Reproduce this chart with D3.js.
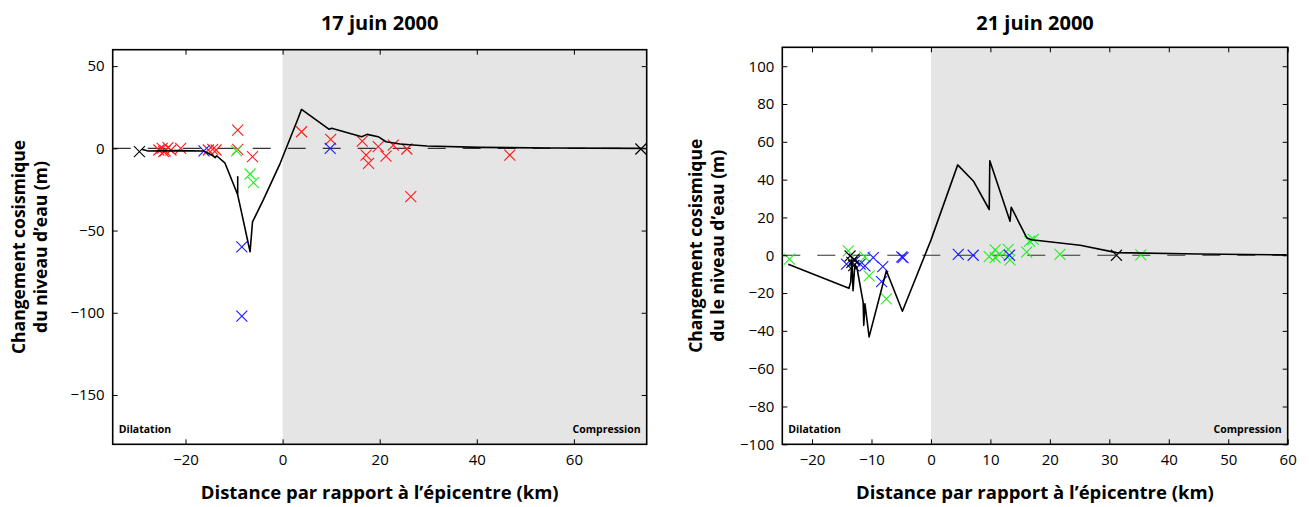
<!DOCTYPE html>
<html><head><meta charset="utf-8">
<script src="https://cdn.jsdelivr.net/npm/d3@7"></script>
<style>body{margin:0;background:#fff}svg{display:block}</style>
</head><body>
<svg id="c" width="1309" height="507"></svg>
<script>
// ---------- Panel 1 : 17 juin 2000 ----------
const p1Title = "17 juin 2000";
const p1XTicks = [-20, 0, 20, 40, 60];
const p1YTicks = [50, 0, -50, -100, -150];
const p1LineX = [-29, -27.7, -22, -16.3, -14.6, -13.9, -13.6, -11.9, -9.5, -9.25, -9.25, -9.25, -9, -6.7, -6.2, -4, -0.5, 3.2, 3.9, 9.6, 10.1, 16.3, 17.4, 19.7, 21.3, 24.2, 29.7, 40.7, 55, 73.8];
const p1LineY = [-0.6, -1.6, -1.4, -1.6, -4, -5.7, -4.5, -8.8, -26.4, -28.4, -17.3, -28.4, -31.6, -62.9, -44.7, -31.5, -9.1, 18.3, 23.7, 11.6, 12.2, 7.1, 8.5, 7.1, 4.0, 2.6, 1.4, 0.6, 0.2, 0];
const p1RedX = [-25.5, -24.8, -24.2, -23.6, -23, -24.5, -21, -15.3, -14.4, -13.7, -9.25, -9.25, -6.2, 3.9, 9.9, 16.4, 17.2, 17.7, 19.7, 21.3, 22.8, 25.6, 26.4, 46.8];
const p1RedY = [-1, 0, -1.5, 0.5, -1, -2, 0, -1, -0.6, -1, 11.1, -0.6, -5.1, 10.1, 5.5, 4.4, -4.1, -9.1, 1, -4.7, 2, -0.4, -29.4, -4.1];
const p1GreenX = [-9.5, -6.7, -6.0];
const p1GreenY = [-1.6, -15.6, -20.9];
const p1BlueX = [-16.2, -8.4, -8.4, 9.8];
const p1BlueY = [-1.6, -59.9, -102, 0];
const p1BlackX = [-29.5, 73.8];
const p1BlackY = [-2, -0.4];

// ---------- Panel 2 : 21 juin 2000 ----------
const p2Title = "21 juin 2000";
const p2XTicks = [-20, -10, 0, 10, 20, 30, 40, 50, 60];
const p2YTicks = [100, 80, 60, 40, 20, 0, -20, -40, -60, -80, -100];
const p2LineX = [-24, -13.8, -13.5, -13.3, -13.1, -12.8, -12.4, -11.4, -11.3, -11.1, -10.4, -7.5, -4.8, 0, 4.5, 7.2, 9.8, 9.9, 13.3, 13.5, 16.1, 16.9, 25.1, 31.2, 45, 59.8];
const p2LineY = [-4.7, -17.5, -14.3, -2.5, -18.7, -4.7, -7.4, -24.9, -37.1, -25.7, -43.2, -8.2, -29.6, 8, 47.8, 39, 24.2, 50, 18, 25.4, 9.3, 8.2, 5.3, 1.4, 0.7, 0.2];
const p2GreenX = [-23.8, -13.9, -11.1, -10.4, -7.5, 9.8, 10.8, 10.8, 11.5, 13, 13.3, 16.1, 16.6, 17.2, 21.7, 35.3];
const p2GreenY = [-2.1, 2.3, -0.9, -10.9, -23.1, -0.7, 2.8, -1.2, 0.5, 3.1, -2.5, 1.7, 7.5, 8.4, 0.5, 0.2];
const p2BlueX = [-14.2, -12.8, -11.9, -11.1, -9.7, -8.1, -8.3, -4.9, -4.7, 4.6, 7.1, 13.2];
const p2BlueY = [-4.7, -3, -4.7, -5.6, -1.2, -6, -14, -0.9, -1.2, 0.5, 0, 0];
const p2BlackX = [-13.6, -13.3, -12.9, -13.0, 31.2];
const p2BlackY = [-0.4, -3.8, -2.1, -5.5, 0];

const panels = [
  {title: p1Title, xDomain: [-35, 75], yDomain: [-180, 60], xTicks: p1XTicks, yTicks: p1YTicks,
   left: 112.7, right: 646.7, top: 49.7, bottom: 444.3,
   lineX: p1LineX, lineY: p1LineY,
   marks: [[p1BlackX, p1BlackY, "#000"], [p1RedX, p1RedY, "#ff1a1a"], [p1GreenX, p1GreenY, "#22ee22"], [p1BlueX, p1BlueY, "#1a1aff"]],
   ylab: ["Changement cosismique", "du niveau d\u2019eau (m)"], ylabX: [19, 41]},
  {title: p2Title, xDomain: [-25, 60], yDomain: [-100, 110], xTicks: p2XTicks, yTicks: p2YTicks,
   left: 782.3, right: 1287.7, top: 47.3, bottom: 444.3,
   lineX: p2LineX, lineY: p2LineY,
   marks: [[p2GreenX, p2GreenY, "#22ee22"], [p2BlueX, p2BlueY, "#1a1aff"], [p2BlackX, p2BlackY, "#000"]],
   ylab: ["Changement cosismique", "du le niveau d\u2019eau (m)"], ylabX: [696, 718]}
];

const svg = d3.select("#c");
const FONT = "'Open Sans', 'Noto Sans', sans-serif";

panels.forEach((p, i) => {
  const x = d3.scaleLinear().domain(p.xDomain).range([p.left, p.right]);
  const y = d3.scaleLinear().domain(p.yDomain).range([p.bottom, p.top]);
  const g = svg.append("g");
  const clipId = "clip" + i;
  svg.append("clipPath").attr("id", clipId).append("rect")
    .attr("x", p.left).attr("y", p.top).attr("width", p.right - p.left).attr("height", p.bottom - p.top);

  // compression shading
  g.append("rect").attr("x", x(0)).attr("y", p.top).attr("width", p.right - x(0)).attr("height", p.bottom - p.top)
    .attr("fill", "#e5e5e5");

  const pg = g.append("g").attr("clip-path", `url(#${clipId})`);
  // zero dashed line
  pg.append("line").attr("x1", p.left).attr("x2", p.right).attr("y1", y(0)).attr("y2", y(0))
    .attr("stroke", "#333").attr("stroke-width", 1.1).attr("stroke-dasharray", "18,17");

  // markers
  const r = 5.5;
  p.marks.forEach(([xs, ys, col]) => {
    pg.selectAll(null).data(xs.map((v, k) => [v, ys[k]])).enter().append("path")
      .attr("d", d => `M${x(d[0]) - r},${y(d[1]) - r}L${x(d[0]) + r},${y(d[1]) + r}M${x(d[0]) - r},${y(d[1]) + r}L${x(d[0]) + r},${y(d[1]) - r}`)
      .attr("stroke", col).attr("stroke-width", 1.1).attr("fill", "none");
  });

  // model line
  const pts = p.lineX.map((v, k) => [v, p.lineY[k]]);
  pg.append("path").attr("d", d3.line().x(d => x(d[0])).y(d => y(d[1]))(pts))
    .attr("fill", "none").attr("stroke", "#000").attr("stroke-width", 1.6).attr("stroke-linejoin", "round");

  // axes (ticks inward on all sides)
  const tl = 5;
  const axB = d3.axisBottom(x).tickValues(p.xTicks).tickSizeInner(-tl).tickSizeOuter(0).tickPadding(10);
  const axT = d3.axisTop(x).tickValues(p.xTicks).tickSizeInner(-tl).tickSizeOuter(0).tickFormat("");
  const axL = d3.axisLeft(y).tickValues(p.yTicks).tickSizeInner(-tl).tickSizeOuter(0).tickPadding(8);
  const axR = d3.axisRight(y).tickValues(p.yTicks).tickSizeInner(-tl).tickSizeOuter(0).tickFormat("");
  const style = sel => {
    sel.select(".domain").remove();
    sel.selectAll("line").attr("stroke", "#000").attr("stroke-width", 1);
    sel.selectAll("text").attr("font-family", FONT).attr("font-size", 15).attr("fill", "#000");
  };
  g.append("g").attr("transform", `translate(0,${p.bottom})`).call(axB).call(style);
  g.append("g").attr("transform", `translate(0,${p.top})`).call(axT).call(style);
  g.append("g").attr("transform", `translate(${p.left},0)`).call(axL).call(style);
  g.append("g").attr("transform", `translate(${p.right},0)`).call(axR).call(style);

  // frame
  g.append("rect").attr("x", p.left).attr("y", p.top).attr("width", p.right - p.left).attr("height", p.bottom - p.top)
    .attr("fill", "none").attr("stroke", "#000").attr("stroke-width", 1.6);

  // corner labels
  g.append("text").attr("x", p.left + 6).attr("y", p.bottom - 11).text("Dilatation")
    .attr("font-family", FONT).attr("font-weight", "bold").attr("font-size", 10.5);
  g.append("text").attr("x", p.right - 6).attr("y", p.bottom - 11).attr("text-anchor", "end").text("Compression")
    .attr("font-family", FONT).attr("font-weight", "bold").attr("font-size", 10.5);

  // title
  const cx = (p.left + p.right) / 2;
  g.append("text").attr("x", cx).attr("y", 30).attr("text-anchor", "middle").text(p.title)
    .attr("font-family", FONT).attr("font-weight", "bold").attr("font-size", 20);
  // x label
  g.append("text").attr("x", cx).attr("y", 499).attr("text-anchor", "middle")
    .text("Distance par rapport \u00e0 l\u2019\u00e9picentre (km)")
    .attr("font-family", FONT).attr("font-weight", "bold").attr("font-size", 18.5);
  // y label
  const cy = (p.top + p.bottom) / 2;
  p.ylab.forEach((t, k) => {
    g.append("text").attr("transform", `translate(${p.ylabX[k] + 6},${cy}) rotate(-90)`)
      .attr("text-anchor", "middle").text(t)
      .attr("font-family", FONT).attr("font-weight", "bold").attr("font-size", 17.5);
  });
});
</script>
</body></html>
